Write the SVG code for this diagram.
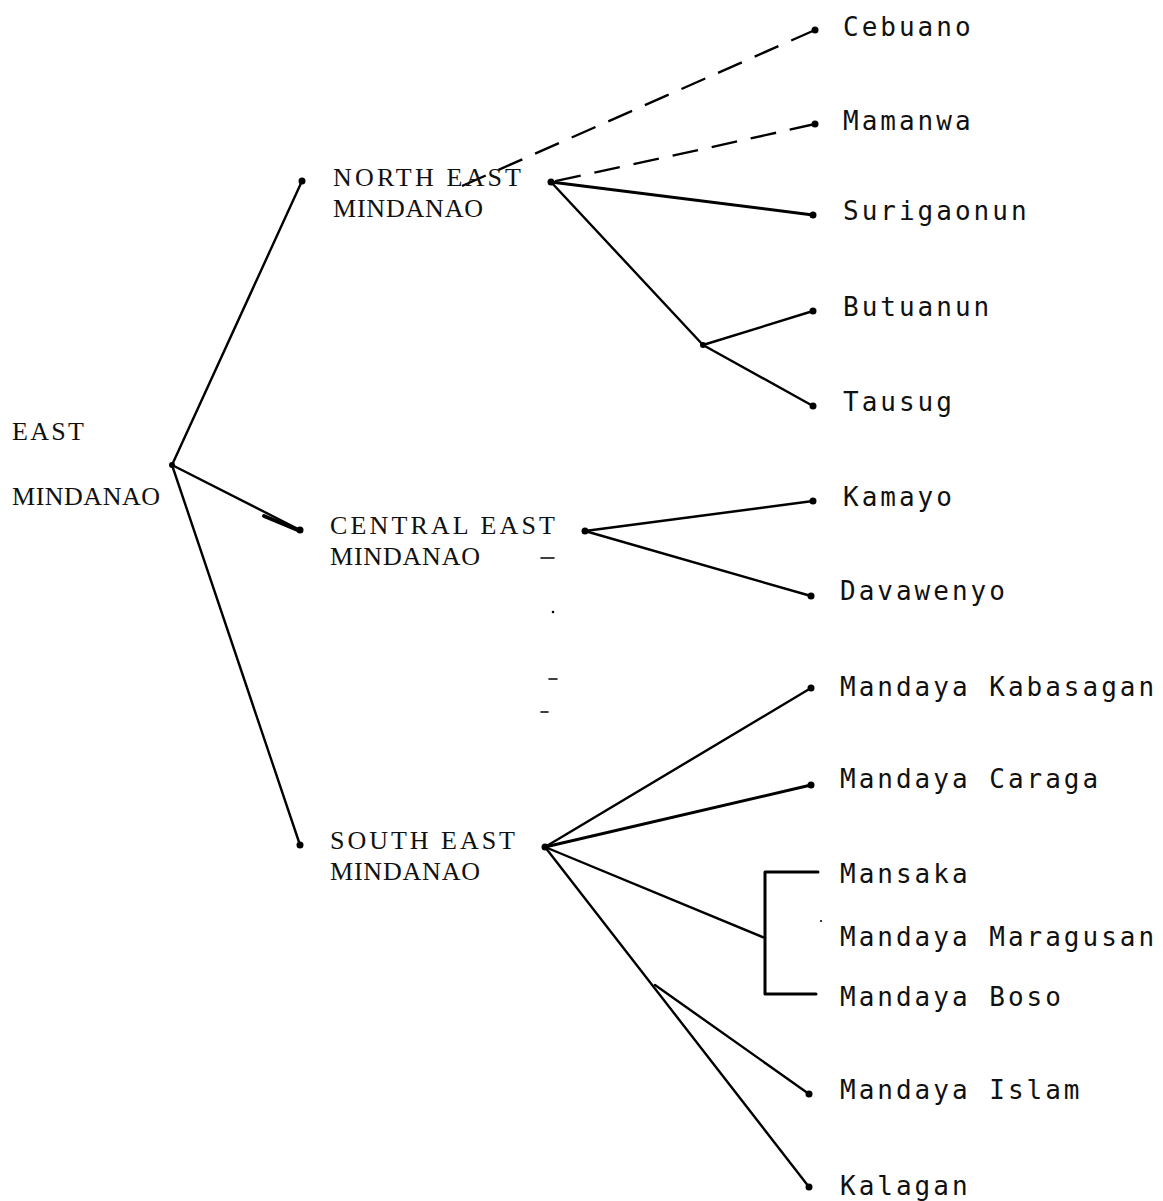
<svg xmlns="http://www.w3.org/2000/svg" width="1163" height="1201" viewBox="0 0 1163 1201">
<style>
.up{font-family:"Liberation Serif","Times New Roman",serif;font-size:26px;fill:#111;}
.lf{font-family:"DejaVu Sans Mono","Liberation Mono",monospace;font-size:26px;letter-spacing:3px;fill:#111;}
.ln{stroke:#000;stroke-width:2.4;fill:none;stroke-linecap:round;stroke-linejoin:round;}
.ds{stroke:#000;stroke-width:2.4;fill:none;stroke-dasharray:26 14;}
.dot{fill:#000;}
</style>
<rect width="1163" height="1201" fill="#fff"/>
<g id="connectors">
<line class="ln" x1="172" y1="465" x2="302" y2="181"/>
<line class="ln" x1="172" y1="465" x2="300" y2="530"/>
<line class="ln" x1="264" y1="516" x2="300" y2="531" style="stroke-width:4"/>
<line class="ln" x1="172" y1="465" x2="300" y2="845"/>
<path class="ds" d="M815,30 L462,186"/>
<path class="ds" d="M815,124 Q700,150 551,182"/>
<line class="ln" x1="551" y1="182" x2="813" y2="215" style="stroke-width:3"/>
<polyline class="ln" points="551,182 703,345 813,406"/>
<line class="ln" x1="703" y1="345" x2="813" y2="311"/>
<line class="ln" x1="585" y1="531" x2="813" y2="501"/>
<line class="ln" x1="585" y1="531" x2="811" y2="596"/>
<line class="ln" x1="545" y1="847" x2="811" y2="688"/>
<line class="ln" x1="545" y1="847" x2="811" y2="785" style="stroke-width:3"/>
<line class="ln" x1="545" y1="847" x2="765" y2="938"/>
<path class="ln" d="M818,872 L765,872 L765,994 L816,994" style="stroke-width:3"/>
<line class="ln" x1="545" y1="847" x2="809" y2="1187"/>
<line class="ln" x1="655" y1="985" x2="809" y2="1094"/>
<g class="strays">
<line class="ln" x1="541" y1="558" x2="554" y2="558" style="stroke-width:1.6"/>
<circle cx="553" cy="612" r="1.3" class="dot"/>
<line class="ln" x1="549" y1="679" x2="557" y2="679" style="stroke-width:1.6"/>
<line class="ln" x1="541" y1="712" x2="548" y2="712" style="stroke-width:1.6"/>
<circle cx="821" cy="921" r="1" class="dot"/>
</g>
</g>
<g id="east-mindanao">
<circle class="dot" cx="172" cy="465" r="3"/>
<text class="up" x="12" y="440" textLength="72" lengthAdjust="spacing">EAST</text>
<text class="up" x="12" y="505" textLength="148" lengthAdjust="spacing">MINDANAO</text>
</g>
<g id="north-east-mindanao">
<circle class="dot" cx="302" cy="181" r="3.5"/>
<circle class="dot" cx="551" cy="182" r="3.5"/>
<text class="up" x="333" y="186" textLength="188" lengthAdjust="spacing">NORTH EAST</text>
<text class="up" x="333" y="217" textLength="150" lengthAdjust="spacing">MINDANAO</text>
</g>
<g id="central-east-mindanao">
<circle class="dot" cx="300" cy="530" r="3.5"/>
<circle class="dot" cx="585" cy="531" r="3.5"/>
<text class="up" x="330" y="534" textLength="225" lengthAdjust="spacing">CENTRAL EAST</text>
<text class="up" x="330" y="565" textLength="150" lengthAdjust="spacing">MINDANAO</text>
</g>
<g id="south-east-mindanao">
<circle class="dot" cx="300" cy="845" r="3.5"/>
<circle class="dot" cx="545" cy="847" r="3.5"/>
<text class="up" x="330" y="849" textLength="185" lengthAdjust="spacing">SOUTH EAST</text>
<text class="up" x="330" y="880" textLength="150" lengthAdjust="spacing">MINDANAO</text>
</g>
<g id="cebuano"><circle class="dot" cx="815" cy="30" r="3.5"/><text class="lf" x="843" y="36">Cebuano</text></g>
<g id="mamanwa"><circle class="dot" cx="815" cy="124" r="3.5"/><text class="lf" x="843" y="130">Mamanwa</text></g>
<g id="surigaonun"><circle class="dot" cx="813" cy="215" r="3.5"/><text class="lf" x="843" y="220">Surigaonun</text></g>
<g id="butuanun"><circle class="dot" cx="813" cy="311" r="3.5"/><circle class="dot" cx="703" cy="345" r="3"/><text class="lf" x="843" y="316">Butuanun</text></g>
<g id="tausug"><circle class="dot" cx="813" cy="406" r="3.5"/><text class="lf" x="843" y="411">Tausug</text></g>
<g id="kamayo"><circle class="dot" cx="813" cy="501" r="3.5"/><text class="lf" x="843" y="506">Kamayo</text></g>
<g id="davawenyo"><circle class="dot" cx="811" cy="596" r="3.5"/><text class="lf" x="840" y="600">Davawenyo</text></g>
<g id="mandaya-kabasagan"><circle class="dot" cx="811" cy="688" r="3.5"/><text class="lf" x="840" y="696">Mandaya Kabasagan</text></g>
<g id="mandaya-caraga"><circle class="dot" cx="811" cy="785" r="3.5"/><text class="lf" x="840" y="788">Mandaya Caraga</text></g>
<g id="mansaka"><text class="lf" x="840" y="883">Mansaka</text></g>
<g id="mandaya-maragusan"><text class="lf" x="840" y="946">Mandaya Maragusan</text></g>
<g id="mandaya-boso"><text class="lf" x="840" y="1006">Mandaya Boso</text></g>
<g id="mandaya-islam"><circle class="dot" cx="809" cy="1094" r="3.5"/><text class="lf" x="840" y="1099">Mandaya Islam</text></g>
<g id="kalagan"><circle class="dot" cx="809" cy="1187" r="3.5"/><text class="lf" x="840" y="1195">Kalagan</text></g>
</svg>
